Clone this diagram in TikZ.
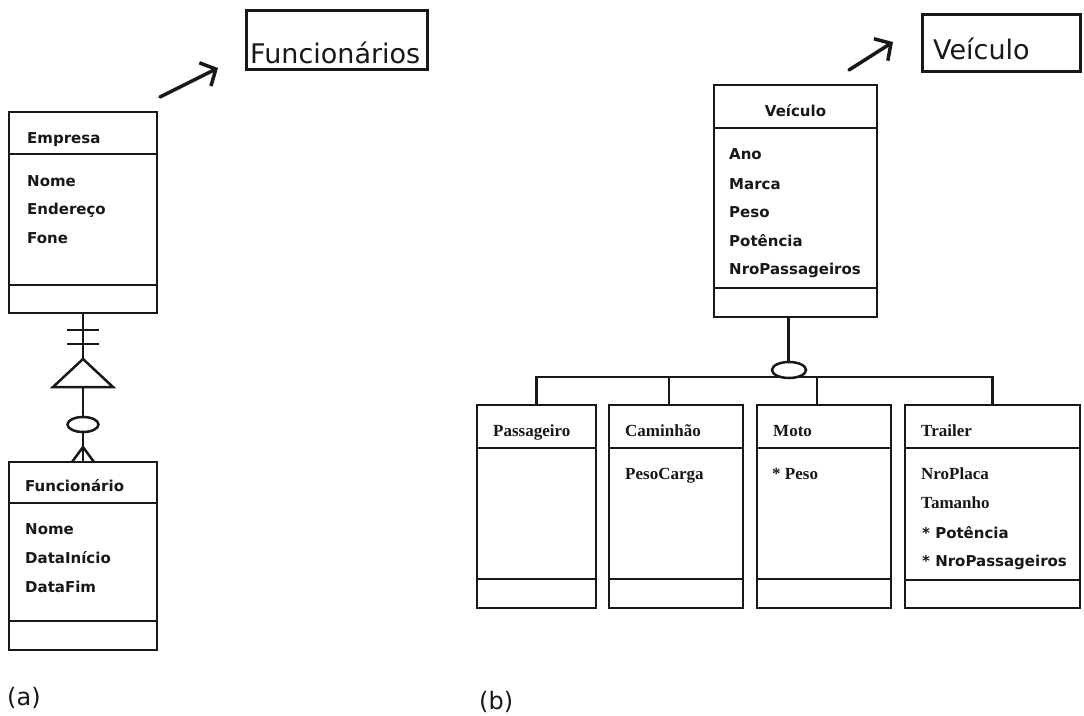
\documentclass[tikz,border=0pt]{standalone}
\usepackage{fontspec}
\setmainfont{Liberation Serif}
\newfontfamily\grotesk{DejaVu Sans}
\usetikzlibrary{arrows.meta,calc,shapes.geometric}

\definecolor{ink}{RGB}{24,24,24}

\tikzset{
  x=1pt, y=-1pt,
  classbox/.style={draw=ink, line width=2.5pt, inner sep=0pt, outer sep=0pt, anchor=north west},
  titlebox/.style={draw=ink, line width=3pt, inner sep=0pt, outer sep=0pt, anchor=north west},
  link/.style={draw=ink, line width=2.5pt},
  attr/.style={anchor=base west, inner sep=0pt, text=ink, font=\grotesk\fontsize{15}{18}\selectfont\bfseries},
  sattr/.style={anchor=base west, inner sep=0pt, text=ink, font=\fontsize{17}{20}\selectfont\bfseries},
  titletext/.style={anchor=base west, inner sep=0pt, text=ink, font=\grotesk\fontsize{27}{30}\selectfont},
  caption/.style={anchor=base west, inner sep=0pt, text=ink, font=\grotesk\fontsize{24}{28}\selectfont},
  pointer/.style={draw=ink, line width=3.5pt, line cap=round, -{Straight Barb[length=12pt,width=26pt,line width=3.5pt]}},
  marker/.style={draw=ink, line width=2.5pt, fill=white, ellipse, inner sep=0pt},
}

% class box: name, x, y, width, height, header height, offset of lower divider
\newcommand\umlclass[7]{%
  \node[classbox, minimum width=#4pt, minimum height=#5pt] (#1) at (#2,#3) {};
  \draw[link] ($(#1.north west)+(0,#6)$) -- ($(#1.north east)+(0,#6)$);
  \draw[link] ($(#1.north west)+(0,#7)$) -- ($(#1.north east)+(0,#7)$);
}

\begin{document}
\begin{tikzpicture}
\useasboundingbox (0,0) rectangle (1084,715);
\fill[white] (0,0) rectangle (1084,715);

% ---------------- (a) aggregation Empresa / Funcionario ----------------
\node[titlebox, minimum width=181pt, minimum height=59pt] (tfunc) at (246,10) {};
\node[titletext] (tfunctxt) at (250,63) {Funcionários};
\coordinate (pa0) at (160,97);
\coordinate (pa1) at (218,68);
\draw[pointer] (pa0) -- (pa1);

\umlclass{emp}{9}{112}{148}{201}{42}{173}
\node[attr] (emp0) at (27,143) {Empresa};
\node[attr] (emp1) at (27,186) {Nome};
\node[attr] (emp2) at (27,214) {Endereço};
\node[attr] (emp3) at (27,243) {Fone};

\umlclass{func}{9}{462}{148}{188}{41}{159}
\node[attr] (func0) at (25,491) {Funcionário};
\node[attr] (func1) at (25,534) {Nome};
\node[attr] (func2) at (25,563) {DataInício};
\node[attr] (func3) at (25,592) {DataFim};

% relationship line with cardinality marks
\draw[link] (emp.south) -- (func.north);
\draw[link] ($(emp.south)+(-16,17)$) -- ($(emp.south)+(16,17)$);
\draw[link] ($(emp.south)+(-16,31)$) -- ($(emp.south)+(16,31)$);
\draw[link, fill=white, line join=miter] ($(emp.south)+(0,46)$) -- ($(emp.south)+(-30,74)$) -- ($(emp.south)+(30,74)$) -- cycle;
\node[marker, minimum width=31pt, minimum height=15pt] (aopt) at (83,424.5) {};
\draw[link] ($(func.north)+(0,-15)$) -- ($(func.north)+(-11,0)$);
\draw[link] ($(func.north)+(0,-15)$) -- ($(func.north)+(11,0)$);

\node[caption] (capa) at (7,705) {(a)};

% ---------------- (b) generalization of Veiculo ----------------
\node[titlebox, minimum width=158pt, minimum height=57pt] (tveic) at (922,14) {};
\node[titletext] (tveictxt) at (933,59) {Veículo};
\coordinate (pb0) at (849,70);
\coordinate (pb1) at (893,42);
\draw[pointer] (pb0) -- (pb1);

\umlclass{veic}{714}{85}{163}{232}{43}{203}
\node[attr, anchor=base] (veic0) at ($(veic.north)+(0,31)$) {Veículo};
\node[attr] (veic1) at (729,159) {Ano};
\node[attr] (veic2) at (729,189) {Marca};
\node[attr] (veic3) at (729,217) {Peso};
\node[attr] (veic4) at (729,246) {Potência};
\node[attr] (veic5) at (729,274) {NroPassageiros};

\umlclass{pass}{477}{405}{119}{203}{43}{174}
\umlclass{cam}{609}{405}{134}{203}{43}{174}
\umlclass{moto}{757}{405}{134}{203}{43}{174}
\umlclass{trail}{905}{405}{175}{203}{43}{175}

\node[sattr] (pass0) at (493,436) {Passageiro};
\node[sattr] (cam0) at (625,436) {Caminhão};
\node[sattr] (cam1) at (625,479) {PesoCarga};
\node[sattr] (moto0) at (773,436) {Moto};
\node[sattr] (moto1) at (772,479) {* Peso};
\node[sattr] (trail0) at (921,436) {Trailer};
\node[sattr] (trail1) at (921,479) {NroPlaca};
\node[sattr] (trail2) at (921,508) {Tamanho};
\node[attr] (trail3) at (922,538) {* Potência};
\node[attr] (trail4) at (922,566) {* NroPassageiros};

% generalization tree
\draw[link] ($(veic.south)+(-7,0)$) -- ++(0,60);
\draw[link] (pass.north) -- ++(0,-28) -| (trail.north);
\draw[link] ($(cam.north)+(-7,0)$) -- ++(0,-28);
\draw[link] ($(moto.north)+(-7,0)$) -- ++(0,-28);
\node[marker, minimum width=34pt, minimum height=16pt] (bopt) at (789,370) {};

\node[caption] (capb) at (479,709) {(b)};
\end{tikzpicture}
\end{document}
